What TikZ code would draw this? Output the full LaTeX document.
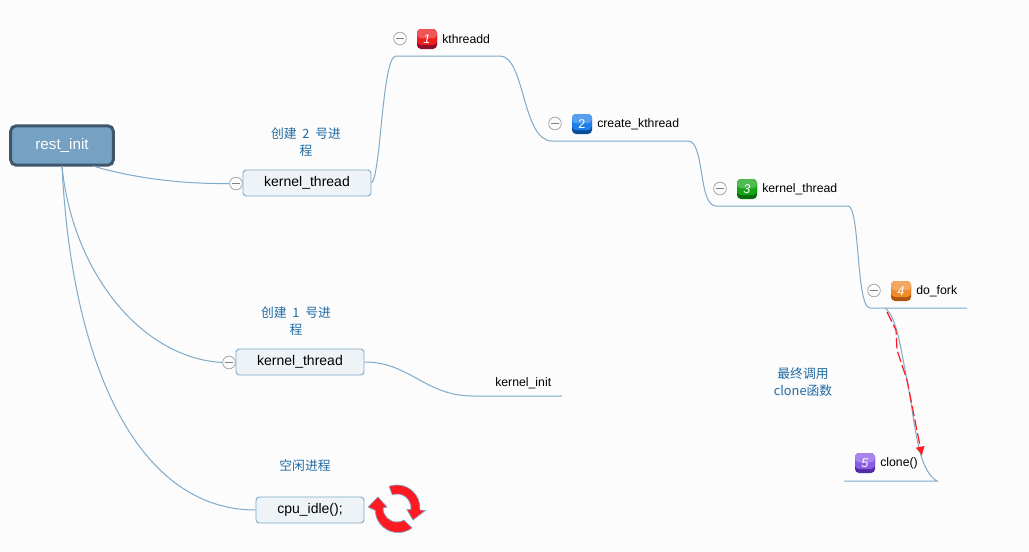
\documentclass[tikz,border=0pt]{standalone}
\usepackage{fontspec}
\setmainfont{Liberation Sans}
\newfontfamily\cjk{Noto Sans CJK SC}
\usetikzlibrary{arrows.meta}
\definecolor{bgc}{HTML}{FCFCFD}
\definecolor{linec}{HTML}{7FAAC8}
\definecolor{labelc}{HTML}{1F6BA3}
\definecolor{boxf}{HTML}{EEF3F7}
\definecolor{rootf}{HTML}{75A1C2}
\definecolor{rootb}{HTML}{3F566C}
\definecolor{redtop}{HTML}{EE1C1C}\definecolor{redlow}{HTML}{8E0F2A}
\definecolor{bluetop}{HTML}{1E7FE8}\definecolor{bluelow}{HTML}{0B4F96}
\definecolor{greentop}{HTML}{14A314}\definecolor{greenlow}{HTML}{0B6A0B}
\definecolor{orangetop}{HTML}{F08A2A}\definecolor{orangelow}{HTML}{B0550F}
\definecolor{violettop}{HTML}{8A5CE6}\definecolor{violetlow}{HTML}{4F2CA6}
\definecolor{brightred}{HTML}{FF1A22}
\tikzset{
  wire/.style={draw=linec,line width=0.75pt},
  rootbox/.style={draw=rootb,line width=2.2pt,fill=rootf,rounded corners=4pt,minimum width=77pt,minimum height=29.5pt,inner sep=0pt,text=white,font=\fontsize{11.4}{13}\selectfont},
  topicbox/.style={draw=linec,line width=0.7pt,fill=boxf,rounded corners=2.5pt,minimum height=19.5pt,inner sep=0pt,text=black,font=\fontsize{10.5}{12}\selectfont},
  plain/.style={inner sep=0pt,anchor=west,text=black,font=\fontsize{9.2}{10}\selectfont},
  note/.style={inner sep=0pt,align=center,text=labelc,font=\cjk\fontsize{9.6}{12.8}\selectfont},
  minus/.style={circle,draw=black!35,line width=0.6pt,fill=bgc,minimum size=9.5pt,inner sep=0pt,path picture={\draw[black!50,line width=0.6pt] ([xshift=-3.2pt]path picture bounding box.center) -- ([xshift=3.2pt]path picture bounding box.center);}},
  badge/.style 2 args={rounded corners=3pt,minimum size=15pt,inner sep=0pt,fill=#2,text=white,font=\fontsize{9.5}{10}\selectfont,
    path picture={\fill[#1] ([yshift=3pt]path picture bounding box.south west) rectangle (path picture bounding box.north east);
    \fill[#1!75!white] ([yshift=-7pt]path picture bounding box.north west) rectangle (path picture bounding box.north east);}},
  refresh/.style={fill=brightred,draw=linec,line width=0.5pt},
}
\begin{document}
\begin{tikzpicture}[x=0.75pt,y=-0.75pt]
\useasboundingbox[fill=bgc] (0,0) rectangle (1029,551);

% coordinates
\coordinate (r1) at (93,166);
\coordinate (r2) at (62,166);
\coordinate (u1a) at (396,56);
\coordinate (u1b) at (500,56);
\coordinate (u2a) at (552,141);
\coordinate (u2b) at (688,141);
\coordinate (u3a) at (716,206);
\coordinate (u3b) at (848,206);
\coordinate (u4a) at (870,308);
\coordinate (u4b) at (967,308);
\coordinate (u4c) at (885,308);
\coordinate (u5a) at (844,481);
\coordinate (u5b) at (937,481);
\coordinate (mid) at (907,380);
\coordinate (i1a) at (473,396);
\coordinate (i1b) at (562,396);
\coordinate (d0) at (887,312);
\coordinate (d1) at (896,330);
\coordinate (d2) at (897,350);
\coordinate (d3) at (907,380);
\coordinate (d4) at (922,456);

% nodes
\node[rootbox] (root) at (62,145.5) {rest\_init};
\node[topicbox,minimum width=96pt] (kt2) at (307,183) {kernel\_thread};
\node[topicbox,minimum width=96pt] (kt1) at (300,362) {kernel\_thread};
\node[topicbox,minimum width=81pt] (idle) at (310,510) {cpu\_idle();};
\node[minus] (m0) at (236,183.5) {};
\node[minus] (m00) at (229,362.5) {};
\node[minus] (m1) at (400,38.5) {};
\node[minus] (m2) at (555,123.5) {};
\node[minus] (m3) at (720,188.5) {};
\node[minus] (m4) at (874,290.5) {};

\node[badge={redtop}{redlow}] (b1) at (427,39) {\itshape 1};
\node[badge={bluetop}{bluelow}] (b2) at (582,124) {2};
\node[badge={greentop}{greenlow}] (b3) at (747,189) {\itshape 3};
\node[badge={orangetop}{orangelow}] (b4) at (901,291) {\itshape 4};
\node[badge={violettop}{violetlow}] (b5) at (865,463) {\itshape 5};

\node[plain] (t1) at (442,39.5) {kthreadd};
\node[plain] (t2) at (597,124.5) {create\_kthread};
\node[plain] (t3) at (762,189.5) {kernel\_thread};
\node[plain] (t4) at (916,291.5) {do\_fork};
\node[plain] (t5) at (880,463.5) {clone()};
\node[plain] (t6) at (495,383.5) {kernel\_init};

\node[note] (n1) at (306,142) {创建 \ 2 \ 号进\\程};
\node[note] (n2) at (296,321) {创建 \ 1 \ 号进\\程};
\node[note] (n3) at (305,466) {空闲进程};
\node[note] (n4) at (803,382) {最终调用\\clone函数};

% connectors
\draw[wire] (r1) .. controls (140,180) and (190,184) .. (m0.west);
\draw[wire] (r2) .. controls (72,270) and (140,358) .. (m00.west);
\draw[wire] (r2) .. controls (72,370) and (140,510) .. (idle.west);
\draw[wire] (kt2.east) .. controls (381,176) and (382,56) .. (u1a) -- (u1b)
  .. controls (525,56) and (522,141) .. (u2a) -- (u2b)
  .. controls (705,141) and (698,206) .. (u3a) -- (u3b)
  .. controls (860,206) and (856,308) .. (u4a) -- (u4b);
\draw[wire] (u4c) .. controls (897,318) and (900,345) .. (mid)
  .. controls (915,420) and (917,470) .. (u5b) -- (u5a);
\draw[wire] (kt1.east) .. controls (410,362) and (425,396) .. (i1a) -- (i1b);

\draw[brightred,line width=0.9pt,dash pattern=on 8pt off 2.5pt,-{Latex[length=7pt,width=7pt]}]
  (d0) -- (d1) -- (d2) -- (d3) -- (d4);

% refresh icon
\begin{scope}[shift={(397,508)},x=0.75pt,y=0.75pt]
  \draw[refresh] (110:23) arc[start angle=110,end angle=-5,radius=17.25pt]
    -- (-5:28.5) -- (-37:20) -- (-9:10) -- (-5:14)
    arc[start angle=-5,end angle=110,radius=10.5pt] -- cycle;
  \draw[refresh] (-53:25) arc[start angle=-53,end angle=-178,radius=17.25pt]
    -- (178:29) -- (150:22) -- (174:10) -- (180:14)
    arc[start angle=-180,end angle=-60,radius=10.5pt] -- cycle;
\end{scope}
\end{tikzpicture}
\end{document}
